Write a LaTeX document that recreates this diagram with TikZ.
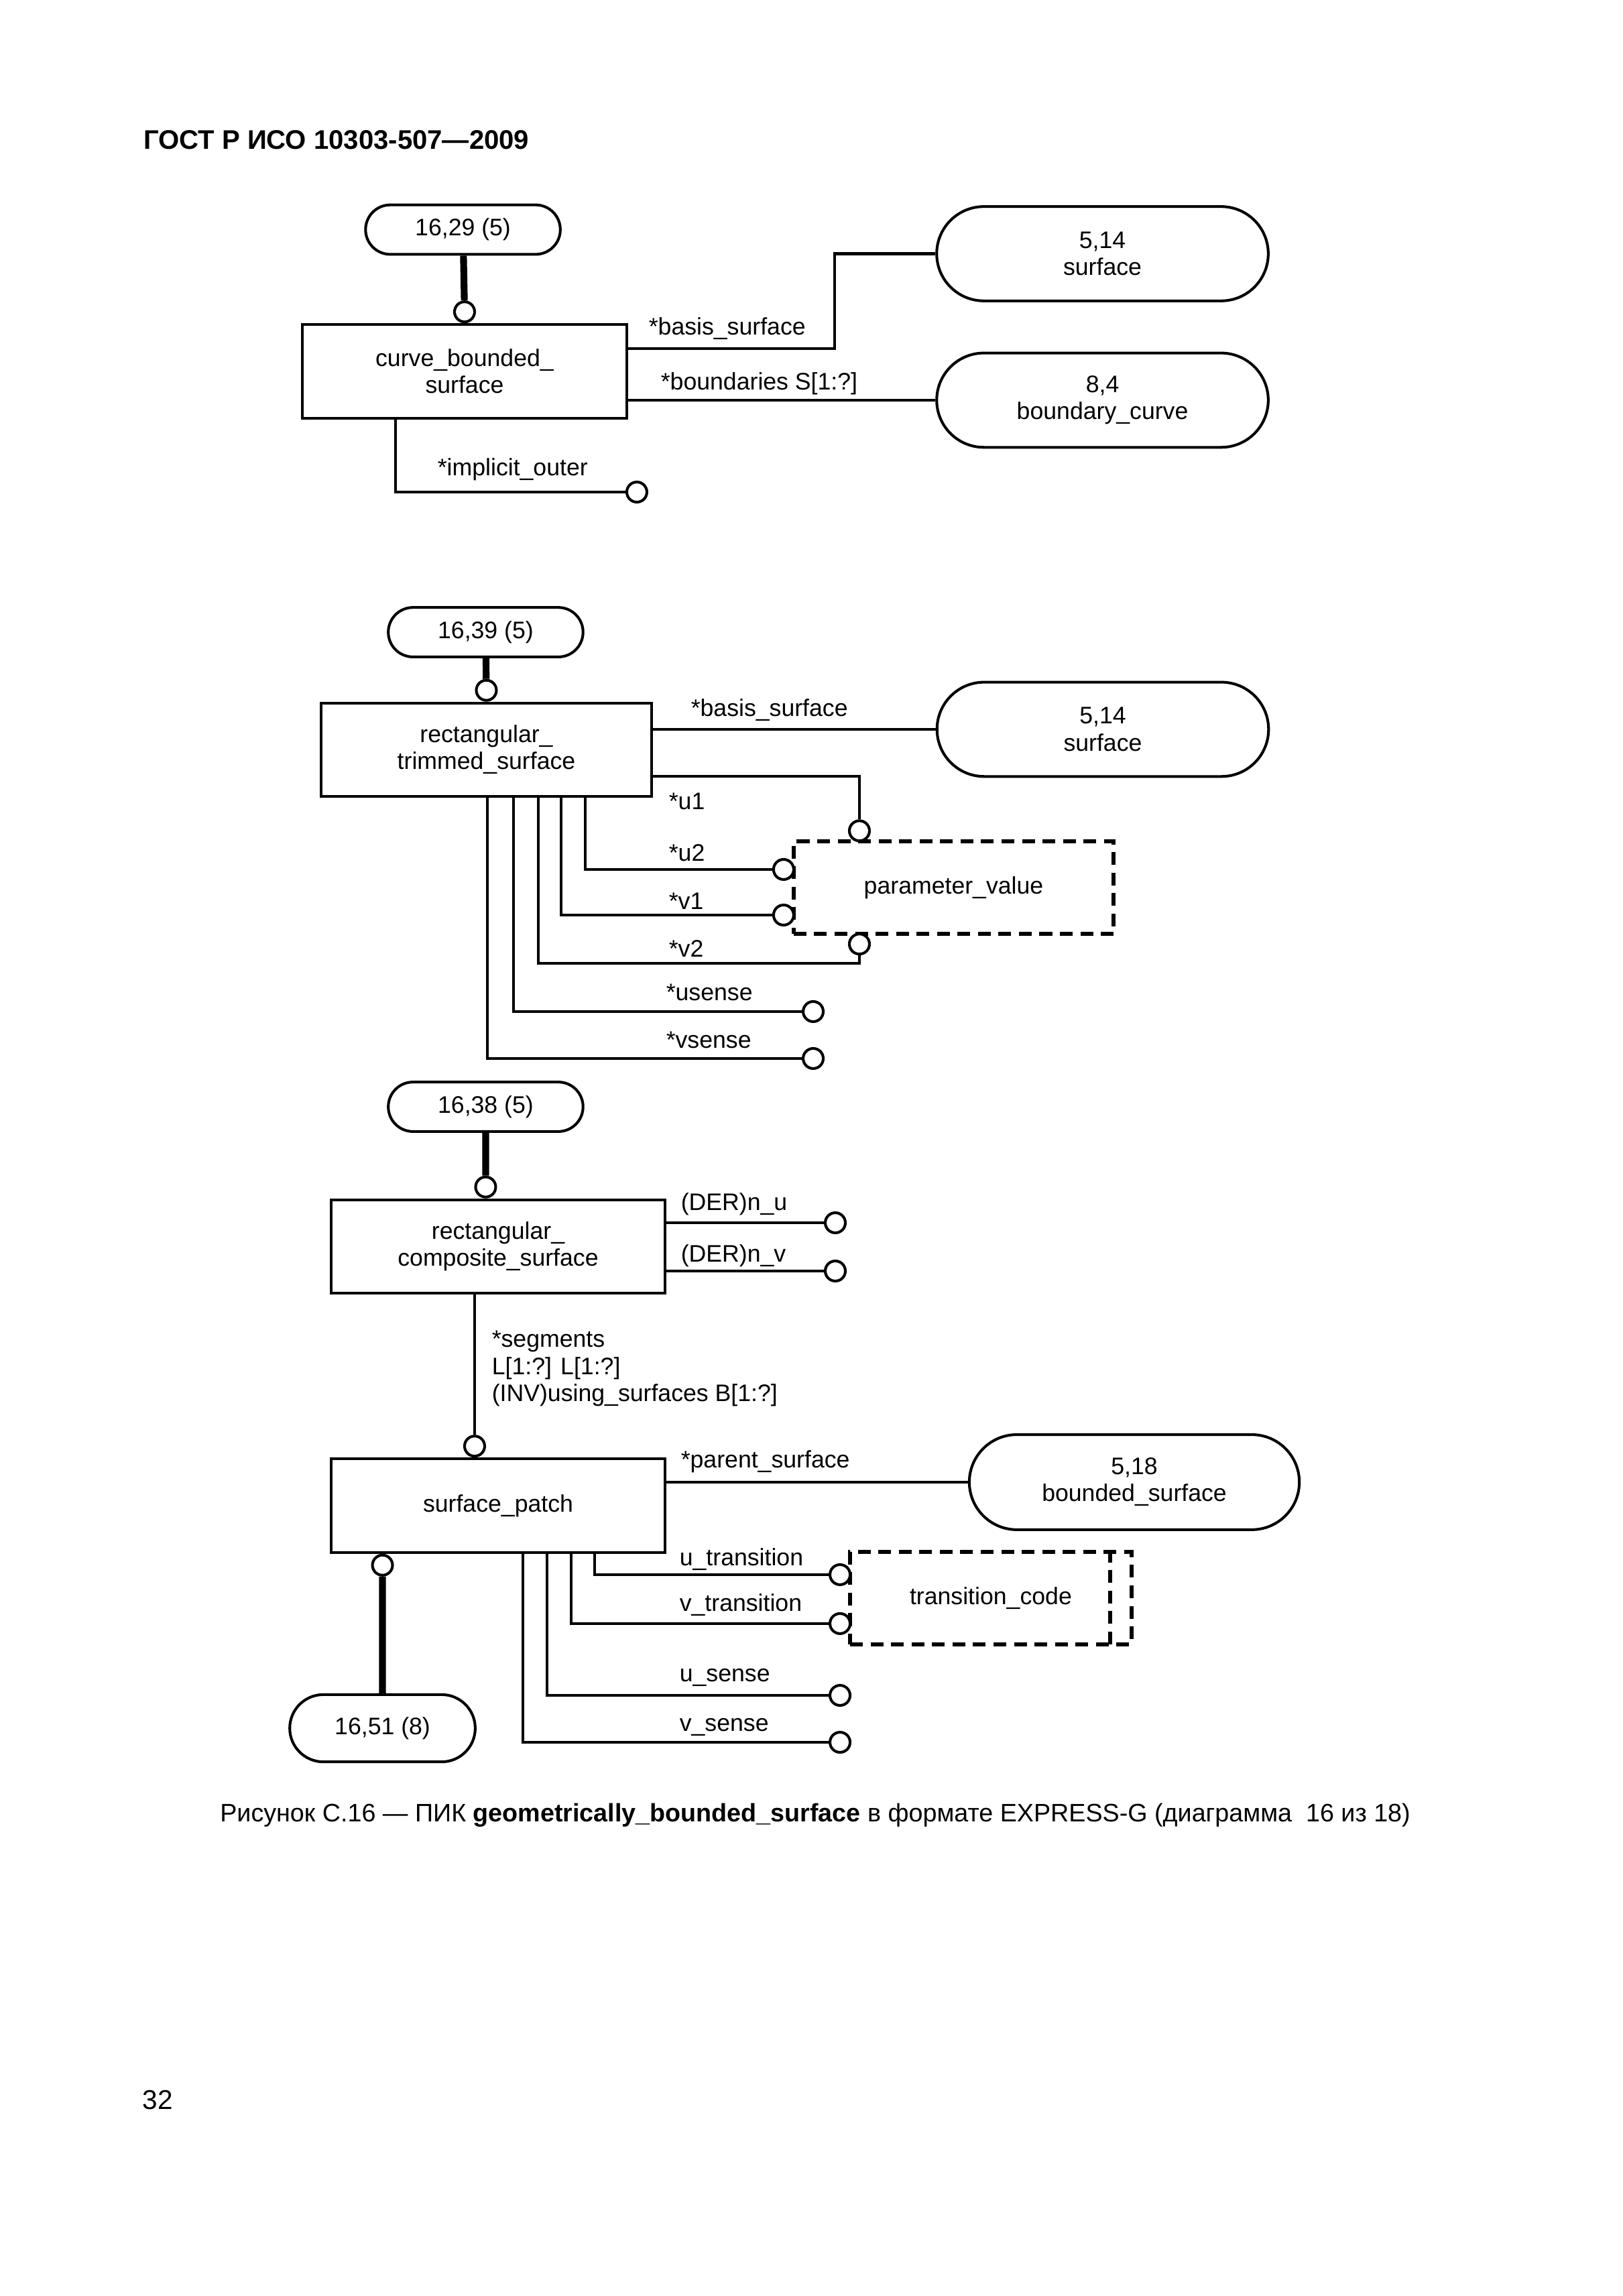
\documentclass[tikz,border=0pt]{standalone}
\usepackage{fontspec}
\setmainfont{Liberation Sans}
\usetikzlibrary{calc,positioning,shapes.misc}

\begin{document}
\begin{tikzpicture}[x=1mm,y=-1mm,
  every node/.style={font=\fontsize{8.8}{9.9}\selectfont},
  entity/.style={draw,line width=1pt,minimum width=42.8mm,minimum height=12.1mm,inner sep=0pt,align=center},
  pageref/.style={draw,line width=1pt,rounded rectangle,minimum width=25.2mm,minimum height=6.4mm,inner sep=0pt},
  typeref/.style={draw,line width=1pt,rounded rectangle,minimum width=42.9mm,minimum height=12.2mm,inner sep=0pt,align=center},
  deftype/.style={draw,line width=1.5pt,dash pattern=on 1.65mm off 1mm,minimum height=12mm,inner sep=0pt},
  ring/.style={circle,draw,fill=white,line width=1pt,minimum size=2.6mm,inner sep=0pt},
  attr/.style={anchor=base west,inner sep=0pt},
  rel/.style={line width=1pt},
  super/.style={line width=2.5pt}]
  \useasboundingbox (0,0) rectangle (210,297.09);
  \node[anchor=base west,inner sep=0pt,font=\fontsize{9.9}{12}\selectfont\bfseries] (hdr) at (18.5,19.26) {ГОСТ Р ИСО 10303-507—2009};

  % curve_bounded_surface
  \node[pageref] (p1) at (59.90,29.71) {16,29 (5)};
  \node[entity,minimum width=42mm] (cbs) at (60.11,48.05) {curve\_bounded\_\\surface};
  \node[ring,above=0pt of cbs] (cbs-o) {};
  \node[typeref] (srf1) at (142.65,32.83) {5,14\\surface};
  \node[typeref] (bcv) at (142.65,51.78) {8,4\\boundary\_curve};
  \node[ring] (io-o) at (82.40,63.67) {};
  \draw[super] (p1) -- (cbs-o);
  \draw[rel] ($(cbs.east)+(0,-2.94)$) -| ($(srf1.west)+(-13,0)$) -- (srf1.west);
  \draw[rel] (cbs.east |- bcv) -- (bcv);
  \draw[rel] ($(cbs.south)+(-8.93,0)$) |- (io-o);
  \node[attr] (l-bs1) at (83.88,43.37) {*basis\_surface};
  \node[attr] (l-bnd) at (85.44,50.48) {*boundaries S[1:?]};
  \node[attr] (l-io) at (56.56,61.50) {*implicit\_outer};

  % rectangular_trimmed_surface
  \node[pageref] (p2) at (62.84,81.80) {16,39 (5)};
  \node[entity] (rts) at (62.93,97.02) {rectangular\_\\trimmed\_surface};
  \node[ring,above=0pt of rts] (rts-o) {};
  \node[typeref] (srf2) at (142.69,94.37) {5,14\\surface};
  \node[deftype,minimum width=41.4mm] (pv) at (123.39,114.85) {parameter\_value};
  \node[ring] (u1-o) at (111.20,107.5) {};
  \node[ring] (u2-o) at (101.39,112.50) {};
  \node[ring] (v1-o) at (101.39,118.40) {};
  \node[ring] (v2-o) at (111.20,122.15) {};
  \node[ring] (us-o) at (105.22,130.89) {};
  \node[ring] (vs-o) at (105.22,136.96) {};
  \draw[super] (p2) -- (rts-o);
  \draw[rel] (rts.east |- srf2) -- (srf2);
  \draw[rel] ($(rts.east)+(0,3.43)$) -| (u1-o);
  \draw[rel] ($(rts.south)+(12.79,0)$) |- (u2-o);
  \draw[rel] ($(rts.south)+(9.67,0)$) |- (v1-o);
  \draw[rel] ($(rts.south)+(6.72,0)$) |- ($(v2-o)+(0,2.5)$) -- (v2-o);
  \draw[rel] ($(rts.south)+(3.51,0)$) |- (us-o);
  \draw[rel] ($(rts.south)+(0.13,0)$) |- (vs-o);
  \node[attr] (l-bs2) at (89.34,92.64) {*basis\_surface};
  \node[attr] (l-u1) at (86.48,104.70) {*u1};
  \node[attr] (l-u2) at (86.48,111.46) {*u2};
  \node[attr] (l-v1) at (86.48,117.62) {*v1};
  \node[attr] (l-v2) at (86.48,123.78) {*v2};
  \node[attr] (l-us) at (86.13,129.50) {*usense};
  \node[attr] (l-vs) at (86.13,135.58) {*vsense};

  % rectangular_composite_surface
  \node[pageref] (p3) at (62.84,143.21) {16,38 (5)};
  \node[entity,minimum width=43.2mm] (rcs) at (64.45,161.29) {rectangular\_\\composite\_surface};
  \node[ring,anchor=south] (rcs-o) at (p3 |- rcs.north) {};
  \node[ring] (nu-o) at (108.08,158.22) {};
  \node[ring] (nv-o) at (108.08,164.46) {};
  \draw[super] (p3) -- (rcs-o);
  \draw[rel] (rcs.east |- nu-o) -- (nu-o);
  \draw[rel] (rcs.east |- nv-o) -- (nv-o);
  \node[attr] (l-nu) at (88.04,156.62) {(DER)n\_u};
  \node[attr] (l-nv) at (88.04,163.25) {(DER)n\_v};

  % surface_patch
  \node[entity,minimum width=43.2mm] (sp) at (64.45,194.82) {surface\_patch};
  \node[ring,anchor=south] (seg-o) at ($(sp.north)+(-3.04,0)$) {};
  \draw[rel] (rcs.south -| seg-o) -- (seg-o);
  \node[attr,align=left] (l-seg) at (63.58,181.3) {*segments\\L[1:?] L[1:?]\\(INV)using\_surfaces B[1:?]};
  \node[typeref,minimum width=42.7mm,minimum height=12.3mm] (bsrf) at (146.77,191.78) {5,18\\bounded\_surface};
  \node[pageref,minimum width=24mm,minimum height=8.7mm] (p4) at (49.49,223.62) {16,51 (8)};
  \node[ring,anchor=north] (sp-o) at (p4 |- sp.south) {};
  \node[deftype,minimum width=36.4mm] (tc) at (128.20,206.79) {transition\_code};
  \draw[line width=1.5pt,dash pattern=on 1.65mm off 1mm] ([xshift=-3mm]tc.north east) -- ([xshift=-3mm]tc.south east);
  \node[ring] (ut-o) at (108.69,203.75) {};
  \node[ring] (vt-o) at (108.69,210.08) {};
  \node[ring] (usn-o) at (108.69,219.37) {};
  \node[ring] (vsn-o) at (108.69,225.44) {};
  \draw[rel] (sp.east |- bsrf) -- (bsrf);
  \draw[super] (sp-o) -- (p4);
  \draw[rel] ($(sp.south)+(12.49,0)$) |- (ut-o);
  \draw[rel] ($(sp.south)+(9.45,0)$) |- (vt-o);
  \draw[rel] ($(sp.south)+(6.33,0)$) |- (usn-o);
  \draw[rel] ($(sp.south)+(3.21,0)$) |- (vsn-o);
  \node[attr] (l-ps) at (88.04,189.96) {*parent\_surface};
  \node[attr] (l-ut) at (87.87,202.54) {u\_transition};
  \node[attr] (l-vt) at (87.87,208.44) {v\_transition};
  \node[attr] (l-usn) at (87.87,217.63) {u\_sense};
  \node[attr] (l-vsn) at (87.87,224.05) {v\_sense};

  \node[anchor=base,inner sep=0pt,font=\fontsize{9.3}{11}\selectfont] (cap) at (105.48,235.7) {Рисунок С.16 — ПИК \textbf{geometrically\_bounded\_surface} в формате EXPRESS-G (диаграмма\ \ 16 из 18)};
  \node[anchor=base west,inner sep=0pt,font=\fontsize{10}{12}\selectfont] (pg) at (18.4,272.97) {32};
\end{tikzpicture}
\end{document}
